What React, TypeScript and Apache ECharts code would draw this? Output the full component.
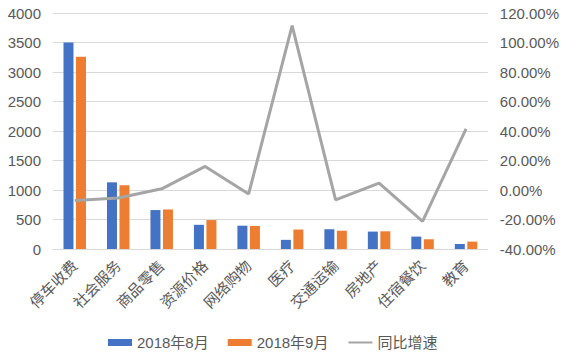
import React, { useEffect, useRef } from "react";
import * as echarts from "echarts";

const categories = ["停车收费", "社会服务", "商品零售", "资源价格", "网络购物", "医疗", "交通运输", "房地产", "住宿餐饮", "教育"];
const aug2018 = [3500, 1130, 660, 410, 395, 155, 335, 295, 210, 85];
const sep2018 = [3260, 1080, 670, 490, 390, 330, 310, 300, 165, 125];
const yoyGrowth = [-7.2, -5.4, 0.8, 16.0, -2.7, 111.5, -6.7, 4.6, -21.3, 41.5];
const seriesNames = ["2018年8月", "2018年9月", "同比增速"];

const FONT = "'Liberation Sans', 'Noto Sans CJK SC', sans-serif";

export default function App() {
  const ref = useRef<HTMLDivElement>(null);
  useEffect(() => {
    if (!ref.current) return;
    const chart = echarts.init(ref.current, null, { renderer: "svg" });
    chart.setOption({
      animation: false,
      textStyle: { fontFamily: FONT },
      grid: { left: 53, right: 73, top: 13, bottom: 109, containLabel: false },
      legend: {
        bottom: 3,
        left: 103,
        itemWidth: 24,
        itemHeight: 7,
        itemGap: 19,
        textStyle: { fontSize: 15, color: "#595959", fontFamily: FONT },
        data: [
          { name: seriesNames[0], icon: "rect" },
          { name: seriesNames[1], icon: "rect" },
          { name: seriesNames[2], itemStyle: { opacity: 0 } },
        ],
      },
      xAxis: {
        type: "category",
        data: categories,
        axisTick: { show: false },
        axisLine: { lineStyle: { color: "#D9D9D9" } },
        axisLabel: { rotate: 45, fontSize: 15, color: "#595959", margin: 14, interval: 0, fontFamily: FONT },
      },
      yAxis: [
        {
          type: "value",
          min: 0,
          max: 4000,
          interval: 500,
          axisLabel: { fontSize: 15, color: "#595959", margin: 12, fontFamily: FONT, formatter: (v: number) => String(v) },
          splitLine: { lineStyle: { color: "#D9D9D9" } },
          axisLine: { show: false },
        },
        {
          type: "value",
          min: -40,
          max: 120,
          interval: 20,
          axisLabel: { fontSize: 15, color: "#595959", margin: 12, fontFamily: FONT, formatter: (v: number) => v.toFixed(2) + "%" },
          splitLine: { show: false },
          axisLine: { show: false },
        },
      ],
      series: [
        {
          name: seriesNames[0],
          type: "bar",
          data: aug2018,
          barWidth: 10,
          barGap: "25%",
          itemStyle: { color: "#4472C4" },
        },
        {
          name: seriesNames[1],
          type: "bar",
          data: sep2018,
          barWidth: 10,
          barGap: "25%",
          itemStyle: { color: "#ED7D31" },
        },
        {
          name: seriesNames[2],
          type: "line",
          yAxisIndex: 1,
          data: yoyGrowth,
          symbol: "none",
          lineStyle: { color: "#A5A5A5", width: 3 },
          itemStyle: { color: "#A5A5A5" },
        },
      ],
    });
    return () => chart.dispose();
  }, []);
  return <div ref={ref} style={{ position: "absolute", left: 0, top: 0, width: 562, height: 358 }} />;
}
